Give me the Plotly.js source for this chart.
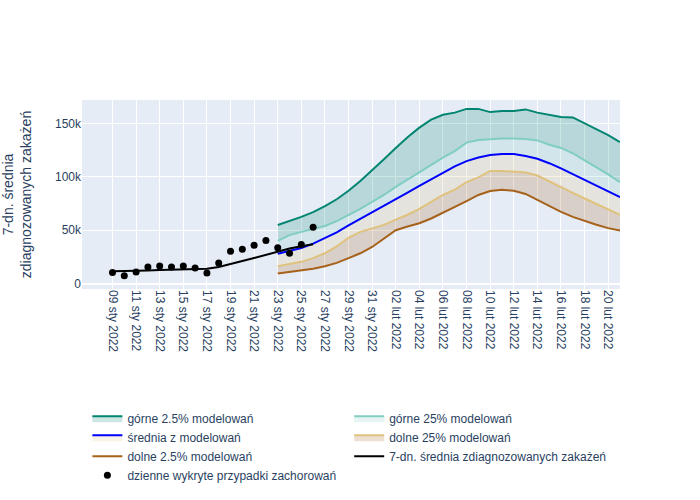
<!DOCTYPE html>
<html>
<head>
<meta charset="utf-8">
<script src="https://cdn.plot.ly/plotly-3.0.1.min.js"></script>
<style>html,body{margin:0;padding:0;background:#fff;}</style>
</head>
<body>
<div id="chart" style="width:700px;height:500px;"></div>
<script>
// ---- data ----
const obsDates = ['2022-01-09','2022-01-10','2022-01-11','2022-01-12','2022-01-13','2022-01-14','2022-01-15','2022-01-16','2022-01-17','2022-01-18','2022-01-19','2022-01-20','2022-01-21','2022-01-22','2022-01-23','2022-01-24','2022-01-25','2022-01-26'];
const dailyCases = [10600, 7400, 11000, 15700, 16500, 15600, 16500, 14700, 10100, 19300, 30300, 32300, 36000, 40500, 33700, 28500, 36800, 52900];
const avg7 = [11800, 11800, 12200, 12500, 12800, 13100, 13400, 14000, 14000, 15600, 18700, 21200, 24000, 27200, 30100, 33000, 35000, 37000];

const modelDates = ['2022-01-23','2022-01-24','2022-01-25','2022-01-26','2022-01-27','2022-01-28','2022-01-29','2022-01-30','2022-01-31','2022-02-01','2022-02-02','2022-02-03','2022-02-04','2022-02-05','2022-02-06','2022-02-07','2022-02-08','2022-02-09','2022-02-10','2022-02-11','2022-02-12','2022-02-13','2022-02-14','2022-02-15','2022-02-16','2022-02-17','2022-02-18','2022-02-19','2022-02-20','2022-02-21'];
const upper2_5 = [55000, 58500, 62500, 67000, 72500, 79000, 87000, 96000, 106000, 116500, 127000, 137000, 146000, 153500, 158000, 160000, 163500, 163500, 160500, 161500, 161500, 163000, 160000, 158000, 156000, 155500, 150000, 144500, 139000, 132500];
const upper25 = [40000, 45500, 48500, 51000, 54000, 58500, 64000, 70000, 76500, 83000, 90500, 97500, 104500, 111000, 118000, 124000, 132000, 134500, 135300, 135800, 135800, 135300, 134000, 130000, 127000, 122000, 115300, 109200, 102300, 95000];
const meanModel = [28000, 30500, 33500, 37500, 42500, 48000, 54500, 60500, 66500, 72800, 79200, 85200, 91500, 97700, 103900, 109700, 114700, 118100, 120300, 121400, 121300, 119500, 116800, 112700, 107800, 102800, 97200, 91700, 86400, 81000];
const lower25 = [16500, 18500, 20500, 24000, 28500, 35000, 43000, 48500, 51500, 55000, 60000, 64500, 70000, 76500, 83000, 88000, 95000, 99500, 105500, 105500, 104700, 104000, 101200, 95600, 90300, 85000, 79700, 74700, 69500, 64400];
const lower2_5 = [9500, 11000, 12500, 14000, 16300, 19500, 24000, 28500, 34400, 42200, 50000, 53500, 56600, 61000, 66400, 71400, 77300, 83000, 86700, 87800, 86900, 84000, 78500, 73000, 67200, 62500, 58600, 55200, 52000, 49700];

const tickVals = ['2022-01-09','2022-01-11','2022-01-13','2022-01-15','2022-01-17','2022-01-19','2022-01-21','2022-01-23','2022-01-25','2022-01-27','2022-01-29','2022-01-31','2022-02-02','2022-02-04','2022-02-06','2022-02-08','2022-02-10','2022-02-12','2022-02-14','2022-02-16','2022-02-18','2022-02-20'];
const tickText = ['09 sty 2022','11 sty 2022','13 sty 2022','15 sty 2022','17 sty 2022','19 sty 2022','21 sty 2022','23 sty 2022','25 sty 2022','27 sty 2022','29 sty 2022','31 sty 2022','02 lut 2022','04 lut 2022','06 lut 2022','08 lut 2022','10 lut 2022','12 lut 2022','14 lut 2022','16 lut 2022','18 lut 2022','20 lut 2022'];

const names = {
  upper2_5: 'górne 2.5% modelowań',
  upper25: 'górne 25% modelowań',
  mean: 'średnia z modelowań',
  lower25: 'dolne 25% modelowań',
  lower2_5: 'dolne 2.5% modelowań',
  avg7: '7-dn. średnia zdiagnozowanych zakażeń',
  daily: 'dzienne wykryte przypadki zachorowań'
};

// ---- traces ----
const traces = [
  {x: modelDates, y: lower2_5, name: names.lower2_5, mode: 'lines', legendrank: 5,
   line: {color: '#a6611a', width: 2}},
  {x: modelDates, y: lower25, name: names.lower25, mode: 'lines', legendrank: 4,
   line: {color: '#dfc27d', width: 2}, fill: 'tonexty', fillcolor: 'rgba(166,97,26,0.2)'},
  {x: modelDates, y: meanModel, name: names.mean, mode: 'lines', legendrank: 3,
   line: {color: '#0000ff', width: 2}, fill: 'tonexty', fillcolor: 'rgba(223,194,125,0.2)'},
  {x: modelDates, y: upper25, name: names.upper25, mode: 'lines', legendrank: 2,
   line: {color: '#80cdc1', width: 2}, fill: 'tonexty', fillcolor: 'rgba(128,205,193,0.2)'},
  {x: modelDates, y: upper2_5, name: names.upper2_5, mode: 'lines', legendrank: 1,
   line: {color: '#018571', width: 2}, fill: 'tonexty', fillcolor: 'rgba(1,133,113,0.2)'},
  {x: obsDates, y: avg7, name: names.avg7, mode: 'lines', legendrank: 6,
   line: {color: 'black', width: 2}},
  {x: obsDates, y: dailyCases, name: names.daily, mode: 'markers', legendrank: 7,
   marker: {color: 'black', size: 7}}
];

const layout = {
  width: 700, height: 500,
  font: {family: 'Liberation Sans, Arial, sans-serif', size: 12, color: '#2a3f5f'},
  paper_bgcolor: '#ffffff',
  plot_bgcolor: '#E5ECF6',
  margin: {l: 82, r: 80, t: 100, b: 211, autoexpand: false},
  showlegend: true,
  legend: {orientation: 'h', traceorder: 'normal', x: 0.01, xanchor: 'left', y: -0.607, yanchor: 'top', font: {size: 12}},
  xaxis: {
    type: 'date',
    range: ['2022-01-06 10:00', '2022-02-21'],
    tickmode: 'array', tickvals: tickVals, ticktext: tickText, tickangle: 90,
    gridcolor: '#ffffff', linecolor: '#ffffff', showline: false, zeroline: false,
    ticks: ''
  },
  yaxis: {
    range: [-4900, 171800],
    tickvals: [0, 50000, 100000, 150000],
    ticktext: ['0', '50k', '100k', '150k'],
    gridcolor: '#ffffff', zeroline: true, zerolinecolor: '#ffffff', zerolinewidth: 2,
    automargin: true,
    title: {text: '7-dn. średnia<br>zdiagnozowanych zakażeń', font: {size: 14}, standoff: 28}
  }
};

Plotly.newPlot('chart', traces, layout, {displayModeBar: false, staticPlot: true});
</script>
</body>
</html>
